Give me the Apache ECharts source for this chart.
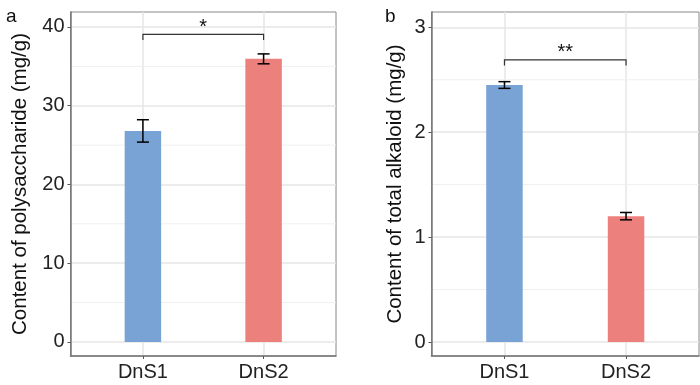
<!DOCTYPE html>
<html>
<head>
<meta charset="utf-8">
<script src="https://cdn.jsdelivr.net/npm/echarts@6/dist/echarts.min.js"></script>
<style>
  html, body { margin: 0; padding: 0; background: #fff; }
  #chart { width: 700px; height: 385px; }
</style>
</head>
<body>
<div id="chart"></div>
<script>
// data
const categories = ['DnS1', 'DnS2']
const barColors = ['#79a3d5', '#ec807d']

const polyMean = [26.8, 35.95]
const polyErr = [1.42, 0.63]
const polyTicks = [0, 10, 20, 30, 40]
const polyMinor = [5, 15, 25, 35]
const polyBracket = [1, 2, 39.07, 38.35]
const polySignif = '*'

const alkMean = [2.45, 1.2]
const alkErr = [0.032, 0.035]
const alkTicks = [0, 1, 2, 3]
const alkMinor = [0.5, 1.5, 2.5]
const alkBracket = [1, 2, 2.69, 2.635]
const alkSignif = '**'

const FONT = '"Liberation Sans", Arial, sans-serif'
const gridColor = '#e6e6e6'
const minorColor = '#efefef'

const chart = echarts.init(document.getElementById('chart'), null, { renderer: 'canvas' })

const xAxisFor = (gridIndex) => ({
  type: 'value',
  gridIndex,
  min: 0.4,
  max: 2.6,
  axisLine: { show: true, onZero: false, lineStyle: { color: '#777', width: 1.5 } },
  axisTick: { show: true, length: 3, customValues: [1, 2], lineStyle: { color: '#555', width: 1 } },
  axisLabel: {
    customValues: [1, 2],
    margin: 6,
    fontSize: 20,
    fontFamily: FONT,
    color: '#222',
    formatter: (v) => categories[Math.round(v) - 1] || '',
  },
  splitLine: { show: true, lineStyle: { color: gridColor, width: 1.5 } },
})

const yAxisFor = (gridIndex, min, max, ticks, name, nameGap) => ({
  type: 'value',
  gridIndex,
  min,
  max,
  name,
  nameLocation: 'middle',
  nameGap,
  nameTextStyle: { fontSize: 20.5, fontFamily: FONT, color: '#111' },
  axisLine: { show: true, onZero: false, lineStyle: { color: '#777', width: 1.5 } },
  axisTick: { show: true, length: 3, customValues: ticks, lineStyle: { color: '#555', width: 1 } },
  axisLabel: { customValues: ticks, margin: 6, fontSize: 20, fontFamily: FONT, color: '#222' },
  splitLine: { show: true, lineStyle: { color: gridColor, width: 1.5 } },
})

const barData = (means) => means.map((v, i) => ({ value: [i + 1, v], itemStyle: { color: barColors[i] } }))
const errData = (means, errs) => means.map((v, i) => [i + 1, v, errs[i]])

const renderErr = (params, api) => {
  const x = api.value(0)
  const m = api.value(1)
  const e = api.value(2)
  const hi = api.coord([x, m + e])
  const lo = api.coord([x, m - e])
  const cap = 6
  const style = { stroke: '#000', lineWidth: 1.5 }
  return {
    type: 'group',
    children: [
      { type: 'line', shape: { x1: hi[0], y1: hi[1], x2: lo[0], y2: lo[1] }, style },
      { type: 'line', shape: { x1: hi[0] - cap, y1: hi[1], x2: hi[0] + cap, y2: hi[1] }, style },
      { type: 'line', shape: { x1: lo[0] - cap, y1: lo[1], x2: lo[0] + cap, y2: lo[1] }, style },
    ],
  }
}

// minor horizontal grid lines, drawn under the bars
const renderMinor = (params, api) => {
  const cs = params.coordSys
  const y = api.coord([1, api.value(0)])[1]
  return {
    type: 'line',
    shape: { x1: cs.x, y1: y, x2: cs.x + cs.width, y2: y },
    style: { stroke: minorColor, lineWidth: 1 },
  }
}

const renderBracket = (signif) => (params, api) => {
  const a = api.coord([api.value(0), api.value(2)])
  const b = api.coord([api.value(1), api.value(2)])
  const drop = api.coord([api.value(0), api.value(3)])[1]
  const style = { stroke: '#333', lineWidth: 1.2, fill: null }
  return {
    type: 'group',
    children: [
      {
        type: 'polyline',
        shape: { points: [[a[0], drop], [a[0], a[1]], [b[0], b[1]], [b[0], drop]] },
        style,
      },
      {
        type: 'text',
        style: {
          x: (a[0] + b[0]) / 2,
          y: a[1] - 7,
          text: signif,
          fontSize: 20,
          fontFamily: FONT,
          fill: '#111',
          align: 'center',
          verticalAlign: 'middle',
        },
      },
    ],
  }
}

chart.setOption({
  animation: false,
  title: [
    { text: 'a', left: 1, top: 2, textStyle: { fontSize: 19, fontWeight: 'normal', fontFamily: FONT, color: '#111' } },
    { text: 'b', left: 380, top: 2, textStyle: { fontSize: 19, fontWeight: 'normal', fontFamily: FONT, color: '#111' } },
  ],
  grid: [
    { left: 70.5, right: 364, top: 12, bottom: 29, show: true, borderColor: '#888', borderWidth: 1, backgroundColor: 'transparent' },
    { left: 431.5, right: 1, top: 12, bottom: 29, show: true, borderColor: '#888', borderWidth: 1, backgroundColor: 'transparent' },
  ],
  xAxis: [xAxisFor(0), xAxisFor(1)],
  yAxis: [
    yAxisFor(0, -1.78, 41.9, polyTicks, 'Content of polysaccharide (mg/g)', 40),
    yAxisFor(1, -0.133, 3.146, alkTicks, 'Content of total alkaloid (mg/g)', 26),
  ],
  series: [
    { type: 'custom', xAxisIndex: 0, yAxisIndex: 0, data: polyMinor.map((v) => [v]), renderItem: renderMinor, z: 0, silent: true },
    { type: 'bar', xAxisIndex: 0, yAxisIndex: 0, barWidth: 36.5, data: barData(polyMean), z: 2 },
    { type: 'custom', xAxisIndex: 0, yAxisIndex: 0, data: errData(polyMean, polyErr), renderItem: renderErr, z: 3 },
    { type: 'custom', xAxisIndex: 0, yAxisIndex: 0, data: [polyBracket], renderItem: renderBracket(polySignif), z: 3 },
    { type: 'custom', xAxisIndex: 1, yAxisIndex: 1, data: alkMinor.map((v) => [v]), renderItem: renderMinor, z: 0, silent: true },
    { type: 'bar', xAxisIndex: 1, yAxisIndex: 1, barWidth: 36.5, data: barData(alkMean), z: 2 },
    { type: 'custom', xAxisIndex: 1, yAxisIndex: 1, data: errData(alkMean, alkErr), renderItem: renderErr, z: 3 },
    { type: 'custom', xAxisIndex: 1, yAxisIndex: 1, data: [alkBracket], renderItem: renderBracket(alkSignif), z: 3 },
  ],
})
</script>
</body>
</html>
